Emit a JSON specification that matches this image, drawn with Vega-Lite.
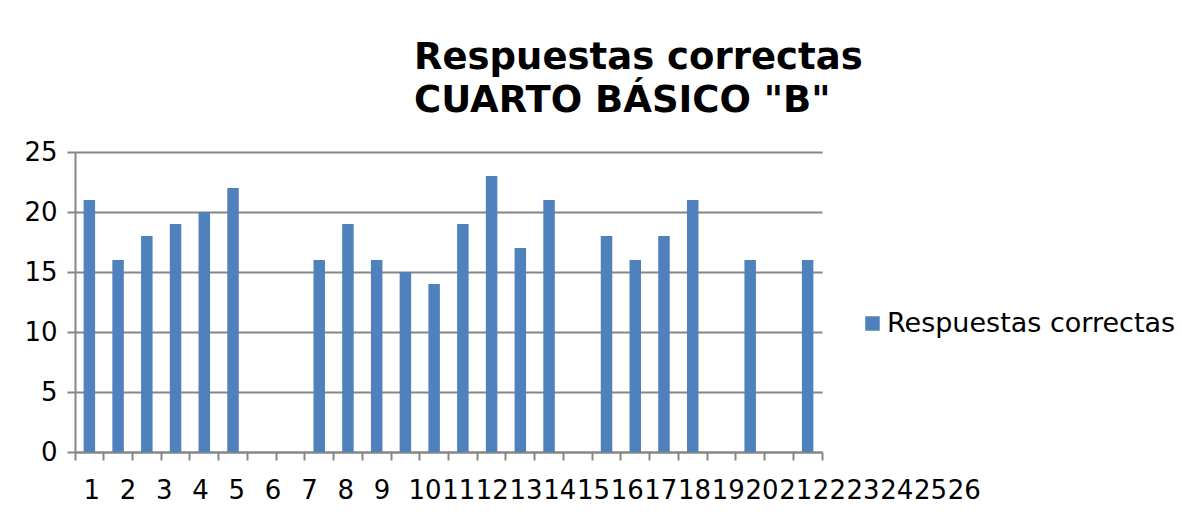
{
  "$schema": "https://vega.github.io/schema/vega-lite/v6.json",
  "width": 747,
  "height": 300,
  "autosize": {"type": "none"},
  "padding": {"left": 75, "top": 152, "right": 360, "bottom": 64},
  "background": "white",
  "title": {
    "text": ["Respuestas correctas", "CUARTO BÁSICO \"B\""],
    "anchor": "start",
    "frame": "group",
    "dx": 339,
    "fontSize": 37,
    "font": "DejaVu Sans",
    "fontWeight": "bold",
    "color": "black",
    "lineHeight": 43,
    "offset": 19
  },
  "data": {
    "values": [
      {"estudiante": 1, "correctas": 21},
      {"estudiante": 2, "correctas": 16},
      {"estudiante": 3, "correctas": 18},
      {"estudiante": 4, "correctas": 19},
      {"estudiante": 5, "correctas": 20},
      {"estudiante": 6, "correctas": 22},
      {"estudiante": 7, "correctas": null},
      {"estudiante": 8, "correctas": null},
      {"estudiante": 9, "correctas": 16},
      {"estudiante": 10, "correctas": 19},
      {"estudiante": 11, "correctas": 16},
      {"estudiante": 12, "correctas": 15},
      {"estudiante": 13, "correctas": 14},
      {"estudiante": 14, "correctas": 19},
      {"estudiante": 15, "correctas": 23},
      {"estudiante": 16, "correctas": 17},
      {"estudiante": 17, "correctas": 21},
      {"estudiante": 18, "correctas": null},
      {"estudiante": 19, "correctas": 18},
      {"estudiante": 20, "correctas": 16},
      {"estudiante": 21, "correctas": 18},
      {"estudiante": 22, "correctas": 21},
      {"estudiante": 23, "correctas": null},
      {"estudiante": 24, "correctas": 16},
      {"estudiante": 25, "correctas": null},
      {"estudiante": 26, "correctas": 16}
    ]
  },
  "mark": {"type": "bar", "width": {"band": 0.4}},
  "encoding": {
    "x": {
      "field": "estudiante",
      "type": "ordinal",
      "scale": {
        "domain": [1,2,3,4,5,6,7,8,9,10,11,12,13,14,15,16,17,18,19,20,21,22,23,24,25,26],
        "paddingInner": 0,
        "paddingOuter": 0
      },
      "axis": {
        "title": null,
        "labelAngle": 0,
        "labelOverlap": false,
        "labelFontSize": 26,
        "labelColor": "black",
        "labelFont": "DejaVu Sans",
        "labelPadding": 17,
        "labelOffset": {"expr": "datum.value < 10 ? 2.3 + 7.56 * (datum.value - 1) : 32.3 + 4.97 * (datum.value - 1)"},
        "bandPosition": 1,
        "tickExtra": true,
        "tickSize": 8,
        "tickColor": "#868686",
        "tickWidth": 2,
        "domainColor": "#868686",
        "domainWidth": 2,
        "grid": false
      }
    },
    "y": {
      "field": "correctas",
      "type": "quantitative",
      "scale": {"domain": [0, 25], "nice": false},
      "axis": {
        "title": null,
        "values": [0, 5, 10, 15, 20, 25],
        "labelFontSize": 26,
        "labelColor": "black",
        "labelFont": "DejaVu Sans",
        "labelPadding": 10,
        "tickSize": 8,
        "tickColor": "#868686",
        "tickWidth": 2,
        "domainColor": "#868686",
        "domainWidth": 2,
        "grid": true,
        "gridColor": "#868686",
        "gridWidth": 2
      }
    },
    "color": {
      "datum": "Respuestas correctas",
      "scale": {"range": ["#4F81BD"]},
      "legend": {
        "title": null,
        "orient": "none",
        "legendX": 784,
        "legendY": 158,
        "symbolType": "square",
        "symbolSize": 210,
        "symbolStrokeWidth": 0,
        "labelFontSize": 27,
        "labelFont": "DejaVu Sans",
        "labelColor": "black",
        "labelOffset": 1,
        "labelLimit": 0,
        "padding": 0
      }
    }
  },
  "config": {"view": {"stroke": null}, "font": "DejaVu Sans"}
}
